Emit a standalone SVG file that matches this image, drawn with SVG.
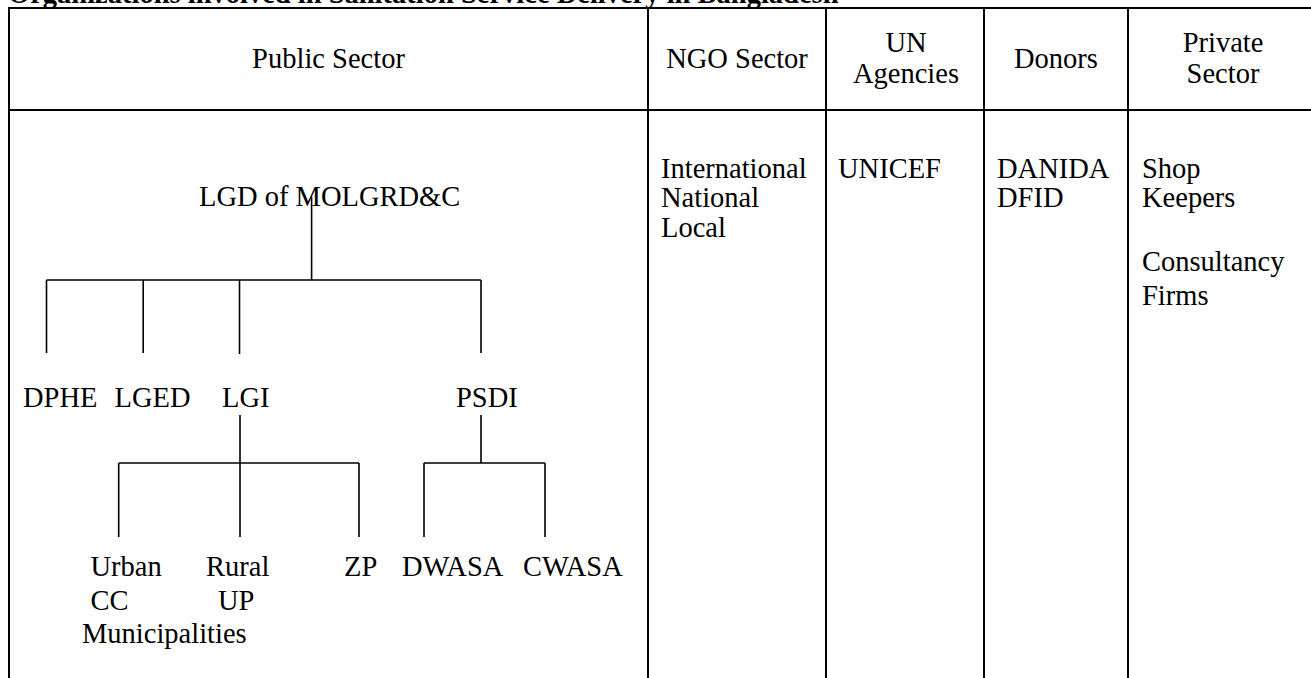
<svg xmlns="http://www.w3.org/2000/svg" width="1311" height="678" viewBox="0 0 1311 678">
<style>
  .t { font-family: "Liberation Serif", "Times New Roman", serif; font-size: 28.5px; fill: #000; }
  .c { text-anchor: middle; }
  .title { font-family: "Liberation Serif", "Times New Roman", serif; font-size: 28.5px; font-weight: bold; fill: #000; }
  .grid { stroke: #000; stroke-width: 2; fill: none; }
  .tree { stroke: #000; stroke-width: 1.6; fill: none; }
</style>
<rect width="1311" height="678" fill="#fff"/>
<g id="title"><text class="title" x="8" y="3">Organizations involved in Sanitation Service Delivery in Bangladesh</text></g>
<g id="table">
  <rect class="grid" x="9" y="8" width="1309" height="700"/>
  <line class="grid" x1="9" y1="110" x2="1318" y2="110"/>
  <line class="grid" x1="648" y1="8" x2="648" y2="708"/>
  <line class="grid" x1="826" y1="8" x2="826" y2="708"/>
  <line class="grid" x1="984" y1="8" x2="984" y2="708"/>
  <line class="grid" x1="1128" y1="8" x2="1128" y2="708"/>
</g>
<g id="headers">
  <g id="h-public"><text class="t c" x="328.5" y="68">Public Sector</text></g>
  <g id="h-ngo"><text class="t c" x="737" y="68">NGO Sector</text></g>
  <g id="h-un"><text class="t c" x="906" y="52">UN</text><text class="t c" x="906" y="83">Agencies</text></g>
  <g id="h-donors"><text class="t c" x="1056" y="68">Donors</text></g>
  <g id="h-private"><text class="t c" x="1223" y="52">Private</text><text class="t c" x="1223" y="83">Sector</text></g>
</g>
<g id="connectors">
  <path class="tree" d="M311.6,197 V280 M46.5,280 H481 M46.5,280 V353 M143.2,280 V353 M239.5,280 V354 M481,280 V353"/>
  <path class="tree" d="M240,415 V463 M118.7,463 H359 M118.7,463 V537 M240,463 V537 M359,463 V537"/>
  <path class="tree" d="M481,415 V463 M424,463 H545 M424,463 V537 M545,463 V537"/>
</g>
<g id="n-lgd"><text class="t" x="199" y="206">LGD of MOLGRD&amp;C</text></g>
<g id="n-dphe"><text class="t" x="23" y="407">DPHE</text></g>
<g id="n-lged"><text class="t" x="114.5" y="407">LGED</text></g>
<g id="n-lgi"><text class="t" x="222" y="407">LGI</text></g>
<g id="n-psdi"><text class="t" x="456" y="407">PSDI</text></g>
<g id="n-urban"><text class="t" x="90.5" y="576">Urban</text><text class="t" x="90.5" y="610">CC</text><text class="t" x="82" y="643">Municipalities</text></g>
<g id="n-rural"><text class="t" x="206" y="576">Rural</text><text class="t" x="218" y="610">UP</text></g>
<g id="n-zp"><text class="t" x="344" y="576">ZP</text></g>
<g id="n-dwasa"><text class="t" x="402" y="576">DWASA</text></g>
<g id="n-cwasa"><text class="t" x="523" y="576">CWASA</text></g>
<g id="n-ngo"><text class="t" x="661" y="178">International</text><text class="t" x="661" y="207">National</text><text class="t" x="661" y="237">Local</text></g>
<g id="n-un"><text class="t" x="838" y="178">UNICEF</text></g>
<g id="n-donors"><text class="t" x="997" y="178">DANIDA</text><text class="t" x="997" y="207">DFID</text></g>
<g id="n-private"><text class="t" x="1142" y="178">Shop</text><text class="t" x="1142" y="207">Keepers</text><text class="t" x="1142" y="271">Consultancy</text><text class="t" x="1142" y="305">Firms</text></g>
</svg>
